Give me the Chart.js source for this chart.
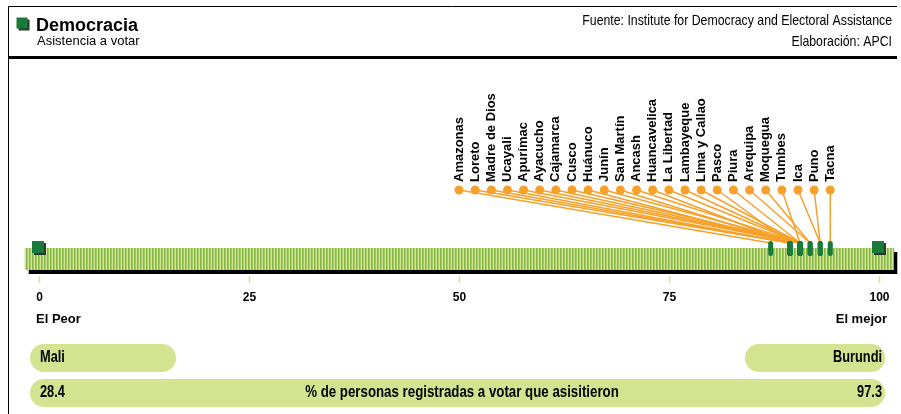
<!DOCTYPE html>
<html>
<head>
<meta charset="utf-8">
<script src="https://cdn.jsdelivr.net/npm/chart.js@4/dist/chart.umd.min.js"></script>
<style>
    body { margin: 0; background: #fff; }
    canvas { display: block; }
</style>
</head>
<body>
<canvas id="grafico" width="901" height="414"></canvas>
<script>
// Datos: asistencia a votar por región (%)
const regiones = ['Amazonas', 'Loreto', 'Madre de Dios', 'Ucayali', 'Apurímac', 'Ayacucho',
    'Cajamarca', 'Cusco', 'Huánuco', 'Junín', 'San Martín', 'Ancash', 'Huancavelica',
    'La Libertad', 'Lambayeque', 'Lima y Callao', 'Pasco', 'Piura', 'Arequipa', 'Moquegua',
    'Tumbes', 'Ica', 'Puno', 'Tacna'];
const asistencia = [87.1, 89.4, 89.4, 89.4, 90.6, 90.6,
    90.6, 90.6, 89.4, 90.6, 89.4, 90.6, 89.4,
    90.6, 90.6, 90.6, 89.4, 90.6, 91.8, 91.8,
    90.6, 93.0, 93.0, 94.2];
const ticksX = [0, 25, 50, 75, 100];
const extremos = [0, 100];
const extremosEtiquetas = ['El Peor', 'El mejor'];
const paises = ['Mali', 'Burundi'];
const valoresPaises = [28.4, 97.3];

const titulo = 'Democracia';
const subtitulo = 'Asistencia a votar';
const fuente = 'Fuente: Institute for Democracy and Electoral Assistance';
const elaboracion = 'Elaboración: APCI';
const indicador = '% de personas registradas a votar que asisitieron';

// Colores
const NARANJA = '#f7a12a';
const VERDE_OSCURO = '#1a7a3c';
const VERDE_PILDORA = '#d3e38f';
const ARIAL = '"Liberation Sans", Arial, sans-serif';

// Niveles verticales (en unidades de la escala y)
const NIVEL_PUNTO = 80;
const NIVEL_FIN_LINEA = 27;
const NIVEL_BANDA = 22;

// Los puntos naranjas se reparten de 50 hasta el valor máximo
const maxValor = Math.max(...asistencia);
const posPuntos = regiones.map((r, i) => 50 + i * (maxValor - 50) / (regiones.length - 1));

const datasets = regiones.map((r, i) => ({
    label: r,
    data: [{ x: posPuntos[i], y: NIVEL_PUNTO }, { x: asistencia[i], y: NIVEL_FIN_LINEA }],
    showLine: true,
    borderColor: NARANJA,
    borderWidth: 1.5,
    pointRadius: [4.5, 0],
    pointBackgroundColor: NARANJA,
    pointBorderWidth: 0
}));

function pildora(ctx, x1, y1, x2, y2) {
    const r = (y2 - y1) / 2;
    ctx.beginPath();
    ctx.roundRect(x1, y1, x2 - x1, y2 - y1, r);
    ctx.fill();
}

function cuadrado(ctx, cx, cy, s) {
    ctx.fillStyle = '#2b3a2f';
    ctx.fillRect(cx - s / 2 + 2, cy - s / 2 + 2, s, s);
    ctx.fillStyle = VERDE_OSCURO;
    ctx.fillRect(cx - s / 2, cy - s / 2, s, s);
}

// Texto angosto (no hay fuente narrow instalada)
function textoAngosto(ctx, texto, px, py, escala) {
    ctx.save();
    ctx.translate(px, py);
    ctx.scale(escala, 1);
    ctx.fillText(texto, 0, 0);
    ctx.restore();
}

const decorado = {
    id: 'decorado',
    beforeDatasetsDraw(chart) {
        const ctx = chart.ctx;
        const x = chart.scales.x;
        const y = chart.scales.y;
        ctx.save();

        // Marco
        ctx.strokeStyle = '#000';
        ctx.lineWidth = 1;
        ctx.beginPath();
        ctx.moveTo(8.5, 414);
        ctx.lineTo(8.5, 6.5);
        ctx.lineTo(897, 6.5);
        ctx.stroke();
        ctx.lineWidth = 3;
        ctx.beginPath();
        ctx.moveTo(8, 57.5);
        ctx.lineTo(897, 57.5);
        ctx.stroke();

        // Encabezado
        cuadrado(ctx, 22, 23, 11);
        ctx.fillStyle = '#000';
        ctx.textBaseline = 'alphabetic';
        ctx.textAlign = 'left';
        ctx.font = 'bold 18px ' + ARIAL;
        ctx.fillText(titulo, 36, 31);
        ctx.font = '13px ' + ARIAL;
        ctx.fillText(subtitulo, 37, 45);
        ctx.textAlign = 'right';
        ctx.font = '15px ' + ARIAL;
        textoAngosto(ctx, fuente, 892, 25, 0.82);
        textoAngosto(ctx, elaboracion, 892, 46, 0.82);

        // Banda con sombra
        const b0 = x.getPixelForValue(-1.7);
        const b1 = x.getPixelForValue(101.7);
        const yTop = y.getPixelForValue(NIVEL_BANDA);
        const yBot = y.getPixelForValue(0);
        ctx.fillStyle = '#000';
        ctx.fillRect(b0 + 4, yTop + 4, b1 - b0, yBot - yTop);
        ctx.fillStyle = '#a4cb5c';
        ctx.fillRect(b0, yTop, b1 - b0, yBot - yTop);
        for (let px = Math.round(b0); px < b1; px += 3) {
            ctx.fillStyle = '#d2e69c';
            ctx.fillRect(px, yTop, 1, yBot - yTop);
            ctx.fillStyle = '#86b648';
            ctx.fillRect(px + 1, yTop, 1, yBot - yTop);
        }

        // Marcas y etiquetas del eje
        ctx.textAlign = 'center';
        ctx.font = 'bold 12px ' + ARIAL;
        ticksX.forEach(t => {
            const px = Math.round(x.getPixelForValue(t)) + 0.5;
            ctx.strokeStyle = '#d3e58f';
            ctx.lineWidth = 1.5;
            ctx.beginPath();
            ctx.moveTo(px, yBot + 6);
            ctx.lineTo(px, yBot + 13);
            ctx.stroke();
            ctx.fillStyle = '#000';
            ctx.fillText(String(t), px, yBot + 31);
        });
        ctx.font = 'bold 13px ' + ARIAL;
        ctx.textAlign = 'left';
        ctx.fillText(extremosEtiquetas[0], x.getPixelForValue(extremos[0]) - 3, yBot + 53);
        ctx.textAlign = 'right';
        ctx.fillText(extremosEtiquetas[1], x.getPixelForValue(extremos[1]) + 8, yBot + 53);

        ctx.restore();
    },
    afterDatasetsDraw(chart) {
        const ctx = chart.ctx;
        const x = chart.scales.x;
        const y = chart.scales.y;
        ctx.save();

        // Cuadrados de los extremos
        extremos.forEach(v => {
            cuadrado(ctx, x.getPixelForValue(v) - 1, y.getPixelForValue(NIVEL_BANDA + 1), 12);
        });

        // Marcadores de las regiones
        ctx.fillStyle = VERDE_OSCURO;
        asistencia.forEach(v => {
            const px = x.getPixelForValue(v);
            ctx.beginPath();
            ctx.roundRect(px - 2.5, y.getPixelForValue(NIVEL_FIN_LINEA + 2), 5, 15, 2.5);
            ctx.fill();
        });

        // Nombres de las regiones
        ctx.fillStyle = '#000';
        ctx.font = 'bold 13px ' + ARIAL;
        ctx.textAlign = 'left';
        ctx.textBaseline = 'middle';
        regiones.forEach((r, i) => {
            ctx.save();
            ctx.translate(x.getPixelForValue(posPuntos[i]), y.getPixelForValue(NIVEL_PUNTO) - 8);
            ctx.rotate(-Math.PI / 2);
            ctx.fillText(r, 0, 0);
            ctx.restore();
        });

        // Pie: países extremos e indicador
        ctx.fillStyle = VERDE_PILDORA;
        pildora(ctx, 30, 344, 176, 372);
        pildora(ctx, 745, 344, 885, 372);
        pildora(ctx, 30, 379, 885, 407);
        ctx.fillStyle = '#000';
        ctx.font = 'bold 16px ' + ARIAL;
        ctx.textBaseline = 'middle';
        ctx.textAlign = 'left';
        textoAngosto(ctx, paises[0], 40, 358, 0.8);
        textoAngosto(ctx, valoresPaises[0].toFixed(1), 40, 393, 0.8);
        ctx.textAlign = 'right';
        textoAngosto(ctx, paises[1], 882, 358, 0.8);
        textoAngosto(ctx, valoresPaises[1].toFixed(1), 882, 393, 0.8);
        ctx.textAlign = 'center';
        textoAngosto(ctx, indicador, 462, 393, 0.83);

        ctx.restore();
    }
};

new Chart(document.getElementById('grafico'), {
    type: 'scatter',
    data: { datasets: datasets },
    options: {
        responsive: false,
        animation: false,
        layout: { padding: { left: 39, right: 22, top: 60, bottom: 144 } },
        scales: {
            x: { type: 'linear', min: 0, max: 100, display: false },
            y: { type: 'linear', min: 0, max: 210, display: false }
        },
        plugins: {
            legend: { display: false },
            tooltip: { enabled: false }
        }
    },
    plugins: [decorado]
});
</script>
</body>
</html>
